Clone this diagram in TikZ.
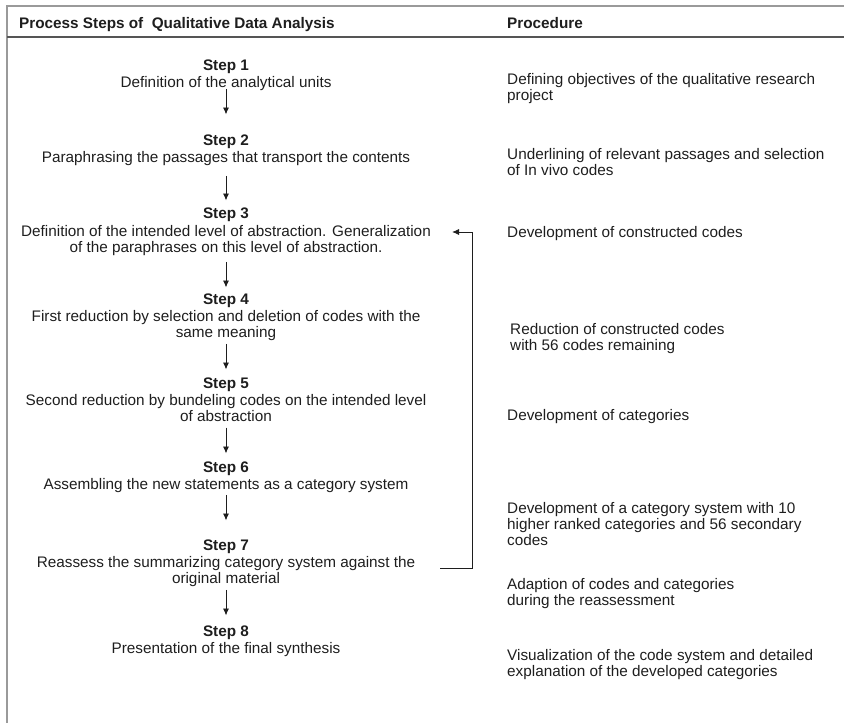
\documentclass[tikz,border=0pt]{standalone}
\usepackage{fontspec}
\setmainfont{Liberation Sans}
\usetikzlibrary{arrows.meta, positioning}
\definecolor{frameGrey}{HTML}{9A9A9A}
\definecolor{ruleGrey}{HTML}{555555}
\definecolor{txtBlack}{HTML}{1E1E1E}
\tikzset{
  frameline/.style  = {frameGrey, line width=1.2pt},
  headrule/.style   = {ruleGrey, line width=1.6pt},
  headlbl/.style    = {font=\fontsize{15.3}{16}\selectfont\bfseries, txtBlack, inner sep=0pt, anchor=base west},
  stepbox/.style    = {font=\fontsize{15.3}{16}\selectfont, txtBlack, align=center, inner sep=0pt, anchor=north},
  proc/.style       = {font=\fontsize{15.3}{16}\selectfont, txtBlack, align=left, inner sep=0pt, anchor=north west},
  flow/.style       = {-{Latex[length=7pt, width=6pt]}, line width=0.9pt, txtBlack},
}

\begin{document}
\begin{tikzpicture}[x=1pt, y=-1pt]
  \useasboundingbox (0,0) rectangle (844,723);

  % frame and header
  \draw[frameline] (7,723) -- (7,6) -- (844,6);
  \draw[headrule] (7,37) -- (844,37);
  \node[headlbl] (hsteps) at (19,28) {Process Steps of \ Qualitative Data Analysis};
  \node[headlbl] (hproc)  at (507,28) {Procedure};

  % process steps
  \node[stepbox] (s1) at (226,59.5)  {\textbf{Step 1}\\[1pt]Definition of the analytical units};
  \node[stepbox] (s2) at (226,134.5) {\textbf{Step 2}\\[1pt]Paraphrasing the passages that transport the contents};
  \node[stepbox] (s3) at (226,207.5) {\textbf{Step 3}\\[2pt]Definition of the intended level of abstraction. Generalization\\of the paraphrases on this level of abstraction.};
  \node[stepbox] (s4) at (226,293.5) {\textbf{Step 4}\\[1pt]First reduction by selection and deletion of codes with the\\same meaning};
  \node[stepbox] (s5) at (226,377.5) {\textbf{Step 5}\\[1pt]Second reduction by bundeling codes on the intended level\\of abstraction};
  \node[stepbox] (s6) at (226,461.5) {\textbf{Step 6}\\[1pt]Assembling the new statements as a category system};
  \node[stepbox] (s7) at (226,539.5) {\textbf{Step 7}\\[1pt]Reassess the summarizing category system against the\\original material};
  \node[stepbox] (s8) at (226,625.5) {\textbf{Step 8}\\[1pt]Presentation of the final synthesis};

  \draw[flow] ([yshift=2pt]s1.south)   -- ([yshift=20pt]s2.north);
  \draw[flow] ([yshift=-10pt]s2.south) -- ([yshift=7pt]s3.north);
  \draw[flow] ([yshift=-6pt]s3.south)  -- ([yshift=6pt]s4.north);
  \draw[flow] ([yshift=-3pt]s4.south)  -- ([yshift=8pt]s5.north);
  \draw[flow] ([yshift=-6pt]s5.south)  -- ([yshift=8pt]s6.north);
  \draw[flow] ([yshift=-2pt]s6.south)  -- ([yshift=19pt]s7.north);
  \draw[flow] ([yshift=-3pt]s7.south)  -- ([yshift=10pt]s8.north);

  % feedback from step 7 to step 3
  \coordinate (fb7) at (440,568);
  \coordinate (fb3) at (452,232);
  \draw[flow] (fb7) -| (472,232) -- (fb3);

  % procedure column
  \node[proc] (p1) at (507,73.5)  {Defining objectives of the qualitative research\\project};
  \node[proc] (p2) at (507,148.5) {Underlining of relevant passages and selection\\of In vivo codes};
  \node[proc] (p3) at (507,226.5) {Development of constructed codes};
  \node[proc] (p4) at (510,323.5) {Reduction of constructed codes\\with 56 codes remaining};
  \node[proc] (p5) at (507,409.5) {Development of categories};
  \node[proc] (p6) at (507,502.5) {Development of a category system with 10\\higher ranked categories and 56 secondary\\codes};
  \node[proc] (p7) at (507,578.5) {Adaption of codes and categories\\during the reassessment};
  \node[proc] (p8) at (507,649.5) {Visualization of the code system and detailed\\explanation of the developed categories};
\end{tikzpicture}
\end{document}
